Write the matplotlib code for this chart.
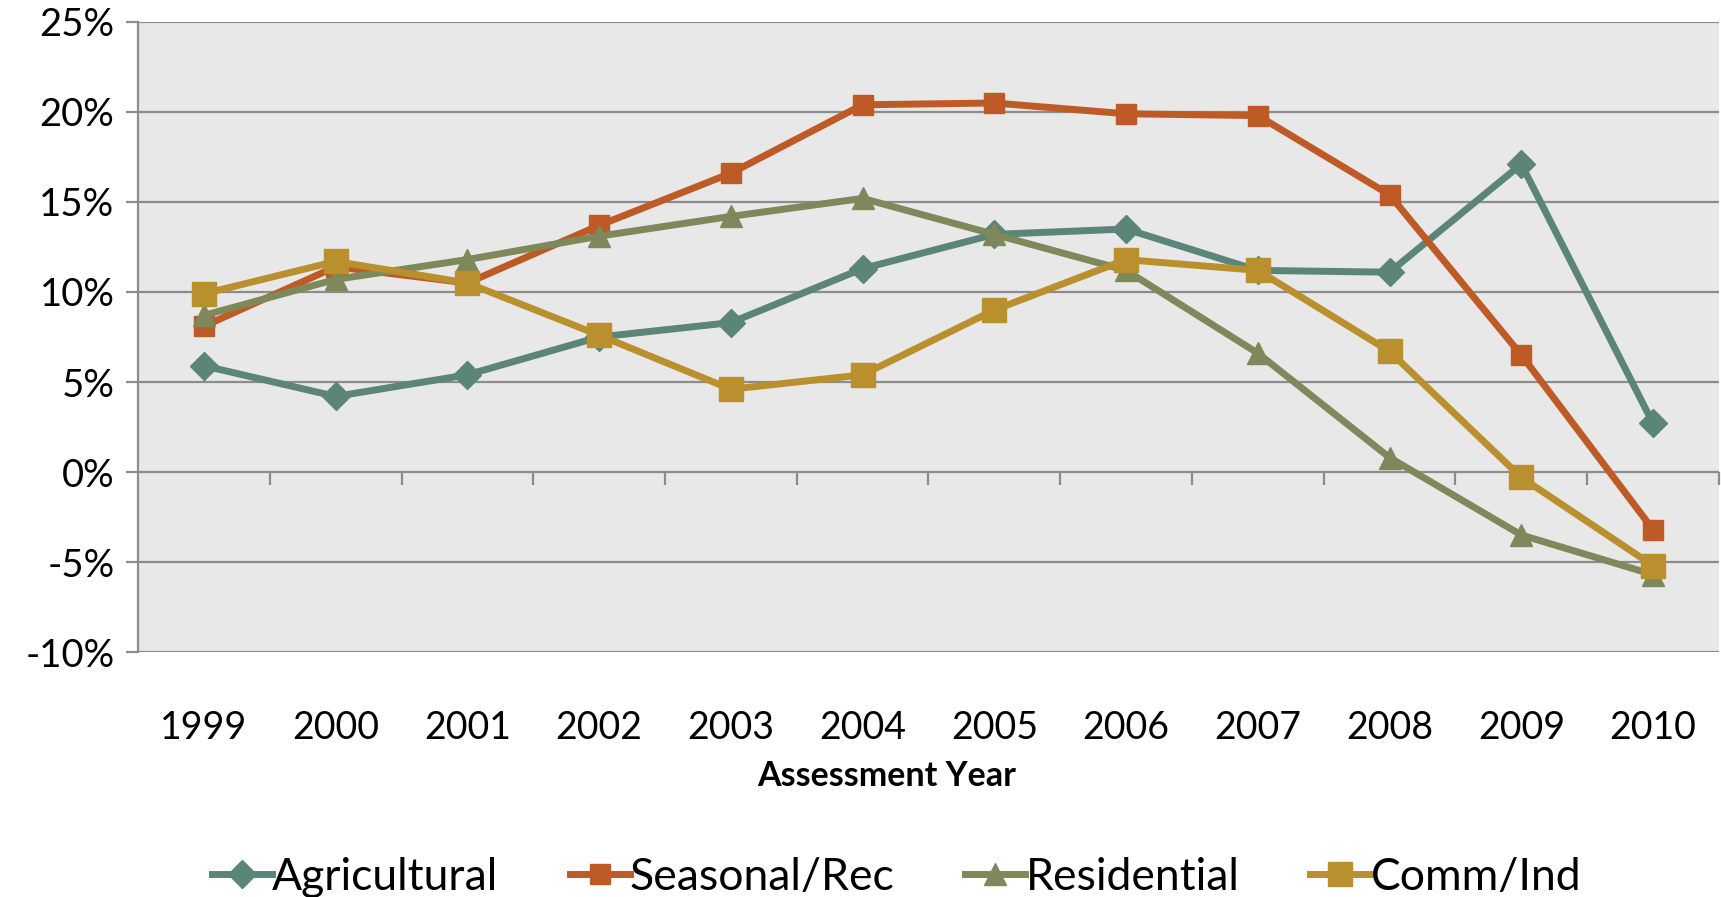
import matplotlib as mpl
import matplotlib.pyplot as plt
import numpy as np

mpl.use('Agg')
plt.rcParams['font.family'] = ['Lato', 'DejaVu Sans']

years = ['1999', '2000', '2001', '2002', '2003', '2004',
         '2005', '2006', '2007', '2008', '2009', '2010']

agricultural = [5.9, 4.2, 5.4, 7.5, 8.3, 11.3, 13.2, 13.5, 11.2, 11.1, 17.1, 2.7]
seasonal_rec = [8.1, 11.4, 10.5, 13.7, 16.6, 20.4, 20.5, 19.9, 19.8, 15.4, 6.5, -3.2]
residential = [8.7, 10.7, 11.8, 13.1, 14.2, 15.2, 13.2, 11.2, 6.6, 0.8, -3.5, -5.7]
comm_ind = [9.9, 11.7, 10.5, 7.6, 4.6, 5.4, 9.0, 11.8, 11.2, 6.7, -0.3, -5.2]

series = [
    ('Agricultural', agricultural, '#5A8578', 'D', 14),
    ('Seasonal/Rec', seasonal_rec, '#BE5A26', 's', 15),
    ('Residential', residential, '#7F885A', '^', 16),
    ('Comm/Ind', comm_ind, '#BA8F2E', 's', 17),
]

grid_col = '#8C8C8C'

fig = plt.figure(figsize=(17.21, 8.97), dpi=100)
ax = fig.add_axes([0.0802, 0.2731, 0.9186, 0.7024])
ax.set_facecolor('#E8E8E8')

x = np.arange(len(years))
for name, vals, col, mk, ms in series:
    ax.plot(x, vals, color=col, lw=5, marker=mk, markersize=ms,
            label=name, zorder=3)

ax.set_xlim(-0.5, len(years) - 0.5)
ax.set_ylim(-10, 25)
ax.set_yticks(np.arange(-10, 26, 5))
ax.set_yticklabels([f'{v}%' for v in range(-10, 26, 5)])
ax.yaxis.grid(True, color=grid_col, lw=1.6)
ax.set_axisbelow(True)

for side in ['top', 'right', 'bottom']:
    ax.spines[side].set_visible(False)
ax.spines['left'].set_color(grid_col)
ax.spines['left'].set_linewidth(1.6)
ax.tick_params(axis='y', length=9, width=1.6, color=grid_col,
               labelsize=27.5, pad=8)

# year labels sit below the plot, tick marks sit on the zero line
ax.set_xticks(x)
ax.set_xticklabels(years)
ax.tick_params(axis='x', length=0, labelsize=27, pad=42)
ax.set_xlabel('Assessment Year', fontsize=24.5, fontweight='bold')
ax.xaxis.set_label_coords(0.4736, -0.172)

zero_pos = (0 - (-10)) / 35
sec = ax.secondary_xaxis(zero_pos)
sec.set_xticks(np.arange(0.5, len(years) - 0.5 + 0.01, 1.0))
sec.set_xticklabels([])
sec.tick_params(axis='x', direction='out', length=9.5, width=1.6, color=grid_col)
sec.spines['bottom'].set_visible(False)

leg = fig.legend(loc='center', bbox_to_anchor=(0.521, 0.022), ncol=4,
                 frameon=False, fontsize=32, handlelength=1.35,
                 handletextpad=0.0, columnspacing=1.6)

fig.savefig('out.png', dpi=100)
